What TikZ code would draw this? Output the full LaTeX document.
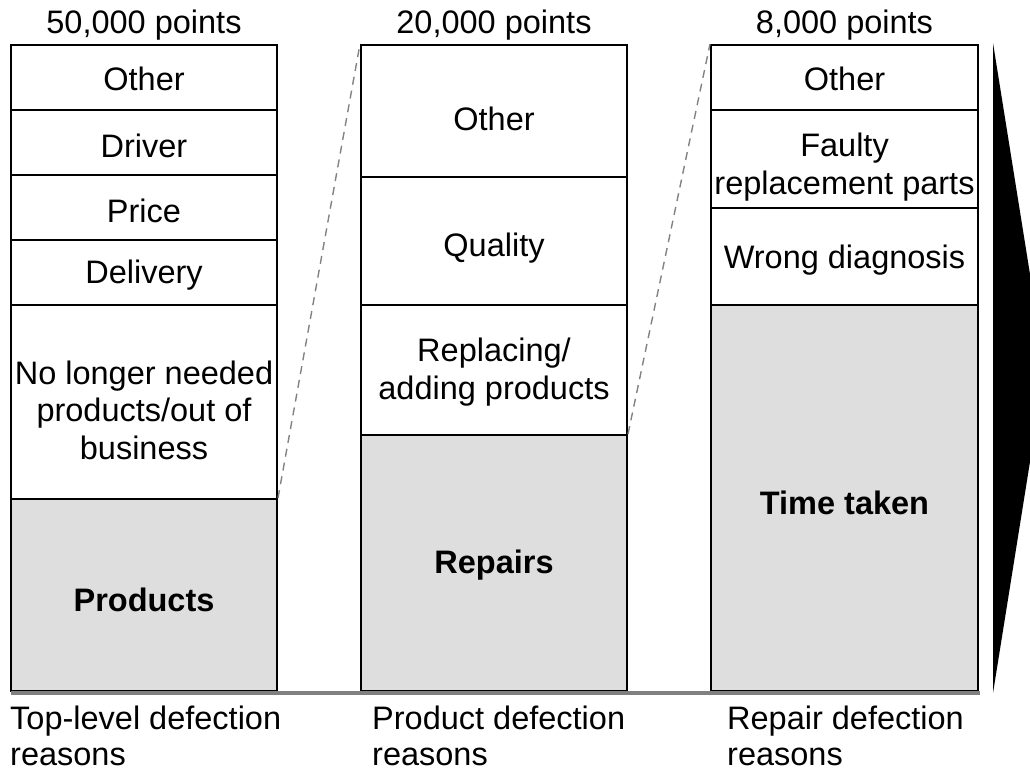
\documentclass[tikz,border=0pt]{standalone}
\usepackage{fontspec}
\setmainfont{Liberation Sans}
\definecolor{shade}{RGB}{222,222,222}
\definecolor{groundgray}{RGB}{128,128,128}
\definecolor{guide}{RGB}{130,130,130}
\begin{document}
\begin{tikzpicture}[x=1pt,y=-1pt,
  every node/.style={font=\fontsize{32.5}{37.5}\selectfont},
  seg/.style={draw, line width=2pt, inner sep=0pt, minimum width=266pt},
  wide/.style={seg, minimum width=267pt},
  main/.style={fill=shade},
  txt/.style={inner sep=0pt, align=center},
  bold/.style={txt, font=\fontsize{32.5}{37.5}\selectfont\bfseries},
  conn/.style={draw=guide, line width=1.4pt, dash pattern=on 8pt off 6pt},
  caption/.style={inner sep=0pt, align=left, anchor=west, font=\fontsize{32.5}{36}\selectfont},
  total/.style={inner sep=0pt}]
\useasboundingbox (0,0) rectangle (1030,768);
\clip (0,0) rectangle (1030,768);

% top-level defection reasons
\node[seg, minimum height=65pt]  (o1)   at (144,77.5)  {};
\node[seg, minimum height=65pt]  (d1)   at (144,142.5) {};
\node[seg, minimum height=65pt]  (p1)   at (144,207.5) {};
\node[seg, minimum height=65pt]  (del1) at (144,272.5) {};
\node[seg, minimum height=194pt] (n1)   at (144,402)   {};
\node[seg, main, minimum height=192pt] (prod) at (144,595) {};
\node[txt]  (o1t)   at ([yshift=-1pt]o1.center)   {Other};
\node[txt]  (d1t)   at ([yshift=-3pt]d1.center)   {Driver};
\node[txt]  (p1t)   at ([yshift=-3pt]p1.center)   {Price};
\node[txt]  (del1t) at ([yshift=-3pt]del1.center) {Delivery};
\node[txt]  (n1t)   at ([yshift=-8pt]n1.center)   {No longer needed\\products/out of\\business};
\node[bold] (prodt) at ([yshift=-5pt]prod.center) {Products};

% product defection reasons
\node[seg, minimum height=132pt] (o2) at (494,111) {};
\node[seg, minimum height=128pt] (q2) at (494,241) {};
\node[seg, minimum height=130pt] (r2) at (494,370) {};
\node[seg, main, minimum height=256pt] (rep) at (494,563) {};
\node[txt]  (o2t)  at ([yshift=-8pt]o2.center)  {Other};
\node[txt]  (q2t)  at ([yshift=-7pt]q2.center)  {Quality};
\node[txt]  (r2t)  at ([yshift=-2pt]r2.center)  {Replacing/\\adding products};
\node[bold] (rept) at ([yshift=-2pt]rep.center) {Repairs};

% repair defection reasons
\node[wide, minimum height=65pt]  (o3) at (844.5,77.5)  {};
\node[wide, minimum height=98pt]  (f3) at (844.5,159)   {};
\node[wide, minimum height=97pt]  (w3) at (844.5,256.5) {};
\node[wide, main, minimum height=386pt] (t3) at (844.5,498) {};
\node[txt]  (o3t) at ([yshift=-1pt]o3.center) {Other};
\node[txt]  (f3t) at ([yshift=-8pt]f3.center) {Faulty\\replacement parts};
\node[txt]  (w3t) at ([yshift=-4pt]w3.center) {Wrong diagnosis};
\node[bold] (t3t) at ([yshift=-5pt]t3.center) {Time taken};

% totals
\node[total] (n50) at (144,25)   {50,000 points};
\node[total] (n20) at (494,25)   {20,000 points};
\node[total] (n8)  at (844.5,25) {8,000 points};

% drill-down guides
\draw[conn] (prod.north east) -- (o2.north west);
\draw[conn] (rep.north east) -- (o3.north west);

% ground line
\coordinate (g0) at (11,693);
\coordinate (g1) at (980,693);
\draw[groundgray, line width=4.5pt] (g0) -- (g1);

% direction arrow
\fill (993,43) -- (1045,368) -- (993,693) -- cycle;

% captions
\node[caption] (c1) at (10,736)  {Top-level defection\\reasons};
\node[caption] (c2) at (372,736) {Product defection\\reasons};
\node[caption] (c3) at (727,736) {Repair defection\\reasons};
\end{tikzpicture}
\end{document}
